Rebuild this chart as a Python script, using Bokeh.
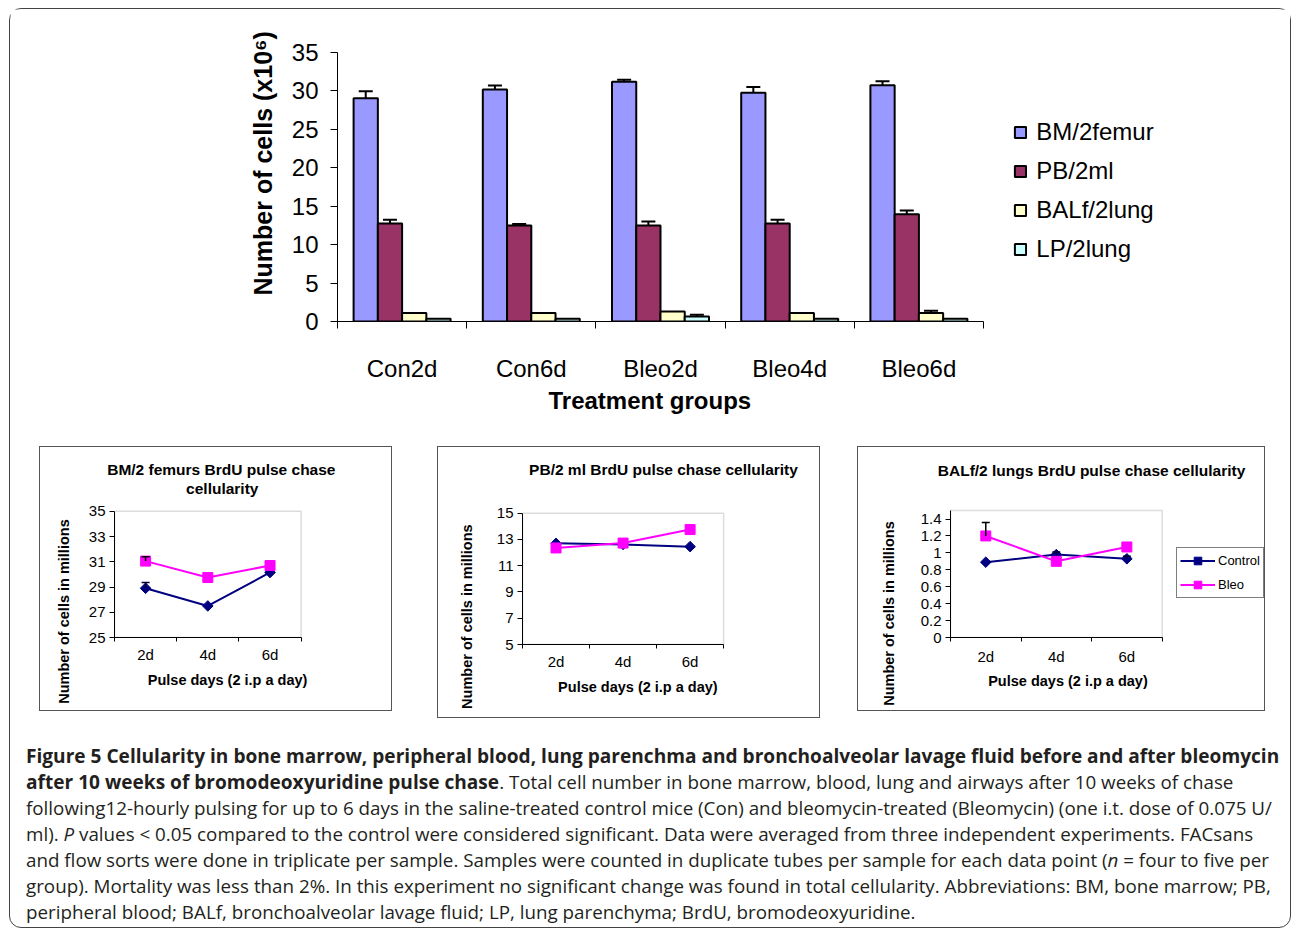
import math
from bokeh.plotting import figure
from bokeh.models import (Range1d, FixedTicker, Label, Legend, LegendItem, Whisker,
                          TeeHead, ColumnDataSource, Div, Title, BoxAnnotation)
from bokeh.layouts import column, row
from bokeh.embed import file_html
from bokeh.resources import INLINE

# ---------------- data: top bar chart ----------------
groups = ["Con2d", "Con6d", "Bleo2d", "Bleo4d", "Bleo6d"]
series_names = ["BM/2femur", "PB/2ml", "BALf/2lung", "LP/2lung"]
bm = [29.05, 30.2, 31.2, 29.75, 30.75]
bm_err = [0.9, 0.5, 0.25, 0.75, 0.5]
pb = [12.75, 12.5, 12.5, 12.75, 13.95]
pb_err = [0.5, 0.2, 0.5, 0.5, 0.5]
balf = [1.1, 1.1, 1.3, 1.1, 1.1]
balf_err = [0, 0, 0, 0, 0.3]
lp = [0.35, 0.35, 0.65, 0.35, 0.35]
lp_err = [0, 0, 0.22, 0, 0]
top_yticks = [0, 5, 10, 15, 20, 25, 30, 35]
bar_colors = ["#9999FF", "#993366", "#FFFFCC", "#CCFFFF"]

# ---------------- data: pulse chase line charts ----------------
days = ["2d", "4d", "6d"]
bm_control = [28.9, 27.5, 30.15]
bm_control_err = [0.45, 0, 0]
bm_bleo = [31.05, 29.75, 30.7]
bm_bleo_err = [0.35, 0, 0]
bm_yticks = [25, 27, 29, 31, 33, 35]

pb_control = [12.7, 12.62, 12.45]
pb_control_err = [0, 0, 0]
pb_bleo = [12.35, 12.72, 13.75]
pb_bleo_err = [0, 0, 0]
pb_yticks = [5, 7, 9, 11, 13, 15]

balf_control = [0.89, 0.98, 0.93]
balf_control_err = [0, 0.03, 0.03]
balf_bleo = [1.2, 0.9, 1.07]
balf_bleo_err = [0.16, 0, 0]
balf_yticks = [0, 0.2, 0.4, 0.6, 0.8, 1, 1.2, 1.4]
balf_ylabels = ["0", "0.2", "0.4", "0.6", "0.8", "1", "1.2", "1.4"]

FONT = "Liberation Sans"


def add_errors(p, xs, vals, errs, color, lw, size):
    keep = [i for i, e in enumerate(errs) if e > 0]
    if not keep:
        return
    src = ColumnDataSource(dict(base=[xs[i] for i in keep],
                                lower=[vals[i] for i in keep],
                                upper=[vals[i] + errs[i] for i in keep]))
    w = Whisker(source=src, base="base", lower="lower", upper="upper",
                line_color=color, line_width=lw, lower_head=None,
                upper_head=TeeHead(size=size, line_color=color, line_width=lw),
                level="overlay")
    p.add_layout(w)


def style_axis(ax, size):
    ax.major_label_text_font = FONT
    ax.major_label_text_font_size = size
    ax.major_label_text_color = "black"
    ax.axis_line_color = "black"


# ---------------- top chart ----------------
# layout (page px): canvas origin (10, 9); plot area x 337..983, y 52..321
ncat = len(groups)
T_CL, T_CT, T_W, T_H = 10, 9, 1280, 431
T_PL, T_PR, T_PT, T_PB = 337, 983, 52, 321
t_xend = ncat * (T_CL + T_W - T_PL) / (T_PR - T_PL)
top = figure(width=T_W, height=T_H, x_range=Range1d(0, t_xend), y_range=Range1d(0, 35),
             output_backend="svg", toolbar_location=None,
             min_border_left=T_PL - T_CL, min_border_right=0, min_border_top=T_PT - T_CT,
             min_border_bottom=T_CT + T_H - T_PB,
             outline_line_color=None, background_fill_color="white", border_fill_color="white")
top.grid.visible = False

offsets = [-0.2815, -0.0938, 0.0938, 0.2815]
bw = 0.1877
all_vals = [bm, pb, balf, lp]
all_errs = [bm_err, pb_err, balf_err, lp_err]
bar_renderers = []
for j, (vals, errs) in enumerate(zip(all_vals, all_errs)):
    xs = [i + 0.5 + offsets[j] for i in range(ncat)]
    r = top.vbar(x=xs, top=vals, width=bw, fill_color=bar_colors[j], line_color="black",
                 line_width=2)
    bar_renderers.append(r)
    add_errors(top, xs, vals, errs, "black", 2, 14)

centers = [i + 0.5 for i in range(ncat)]
xa = top.xaxis[0]
xa.bounds = (0, ncat)
xa.ticker = FixedTicker(ticks=centers, minor_ticks=list(range(ncat + 1)))
xa.major_label_overrides = {c: g for c, g in zip(centers, groups)}
xa.major_tick_line_color = None
xa.major_tick_out = 0
xa.major_tick_in = 0
xa.minor_tick_out = 7
xa.minor_tick_in = 0
xa.minor_tick_line_color = "black"
xa.major_label_standoff = 26
style_axis(xa, "24px")

ya = top.yaxis[0]
ya.bounds = (0, 35)
ya.ticker = FixedTicker(ticks=top_yticks)
ya.major_tick_out = 7
ya.major_tick_in = 0
ya.minor_tick_line_color = None
ya.major_label_standoff = 12
style_axis(ya, "24px")

top.add_layout(Title(text="Number of cells (x10\u2076)", align="left", offset=T_PB - 295,
                     standoff=23, text_font=FONT, text_font_size="25px",
                     text_font_style="bold", text_color="black"), "left")
top.add_layout(Title(text="Treatment groups", align="left", offset=548 - T_PL,
                     vertical_align="top", standoff=5, text_font=FONT, text_font_size="24px",
                     text_font_style="bold", text_color="black"), "below")

leg = Legend(items=[LegendItem(label=n, renderers=[r]) for n, r in zip(series_names, bar_renderers)],
             location=(1013.3 - T_PL, T_PB - 264), margin=0, padding=0, spacing=9,
             label_height=30, glyph_width=14, glyph_height=14, label_standoff=9,
             label_text_font=FONT, label_text_font_size="24px", label_text_color="black",
             border_line_color=None, background_fill_alpha=0)
top.add_layout(leg, "center")


# ---------------- small line charts ----------------
TITLE_HALF = 8.65   # half text height of a 15.5px title line
SMALL_MBT = 33      # common frame-top offset (frames of a row are aligned by bokeh)


def small_chart(box, plot, yrange, yticks, ylabels, control, control_err, bleo, bleo_err,
                titles, ytitle, xtitle, xstandoff, left_gap, legend_pos=None):
    bl, bt, bwid, bht = box
    cl, ct, cw, ch = bl + 1, bt + 1, bwid - 2, bht - 2
    pl, pr, pt, pb = plot
    ymin, ymax = yrange
    n = len(days)
    frame_top = ct + SMALL_MBT
    x_end = n * (cl + cw - pl) / (pr - pl)
    y_top = ymin + (ymax - ymin) * (pb - frame_top) / (pb - pt)

    def dx(px):
        return n * (px - pl) / (pr - pl)

    def dy(py):
        return ymin + (ymax - ymin) * (pb - py) / (pb - pt)

    p = figure(width=bwid, height=bht, x_range=Range1d(0, x_end), y_range=Range1d(ymin, y_top),
               output_backend="svg", toolbar_location=None,
               min_border_left=round(pl - cl), min_border_right=0, min_border_top=SMALL_MBT,
               min_border_bottom=round(ct + ch - pb),
               outline_line_color=None,
               background_fill_color="white", border_fill_color="white",
               margin=(6, 0, 0, left_gap),
               styles={"border": "1px solid #555"})
    p.grid.visible = False
    p.add_layout(BoxAnnotation(left=0, right=n, bottom=ymin, top=ymax, fill_color=None,
                               line_color="#8a8a8a", line_width=1.5, level="underlay"))
    xs = [i + 0.5 for i in range(n)]
    l1 = p.line(xs, control, line_color="#000080", line_width=2)
    s1 = p.scatter(xs, control, marker="square", angle=math.pi / 4, size=7.5,
                   fill_color="#000080", line_color="#000080")
    l2 = p.line(xs, bleo, line_color="#FF00FF", line_width=2)
    s2 = p.scatter(xs, bleo, marker="square", size=10, fill_color="#FF00FF", line_color="#FF00FF")
    add_errors(p, xs, control, control_err, "#000033", 1.5, 8)
    add_errors(p, xs, bleo, bleo_err, "#000000", 1.5, 8)

    xa = p.xaxis[0]
    xa.bounds = (0, n)
    xa.ticker = FixedTicker(ticks=xs, minor_ticks=list(range(n + 1)))
    xa.major_label_overrides = {x: d for x, d in zip(xs, days)}
    xa.major_tick_line_color = None
    xa.major_tick_out = 0
    xa.major_tick_in = 0
    xa.minor_tick_out = 4
    xa.minor_tick_in = 0
    xa.minor_tick_line_color = "black"
    xa.major_label_standoff = xstandoff
    ya = p.yaxis[0]
    ya.bounds = (ymin, ymax)
    ya.ticker = FixedTicker(ticks=yticks)
    ya.major_label_overrides = {t: s for t, s in zip(yticks, ylabels)}
    ya.major_tick_out = 5
    ya.major_tick_in = 0
    ya.minor_tick_line_color = None
    ya.major_label_standoff = 4
    style_axis(xa, "15px")
    style_axis(ya, "15px")

    for (kind, px, py, text) in titles:
        if kind == "label":
            p.add_layout(Label(x=dx(px), y=dy(py), text=text, text_align="center",
                               text_baseline="middle", text_font=FONT, text_font_size="15.5px",
                               text_font_style="bold", text_color="black"))
        else:
            # px = left edge of the text, py = vertical centre of the text
            so = max(0.0, 2 * (frame_top - (py + TITLE_HALF)))
            p.add_layout(Title(text=text, align="left", offset=px - pl, standoff=so,
                               text_font=FONT, text_font_size="15.5px",
                               text_font_style="bold", text_color="black"), "above")
    y_end, y_so = ytitle
    p.add_layout(Title(text="Number of cells in millions", align="left", offset=pb - y_end,
                       standoff=y_so, text_font=FONT, text_font_size="14.5px",
                       text_font_style="bold", text_color="black"), "left")
    x_start, x_so = xtitle
    p.add_layout(Title(text="Pulse days (2 i.p a day)", align="left", offset=x_start - pl,
                       vertical_align="top", standoff=x_so, text_font=FONT,
                       text_font_size="14.5px", text_font_style="bold", text_color="black"),
                 "below")
    if legend_pos is not None:
        lx, ly = legend_pos
        lg = Legend(items=[LegendItem(label="Control", renderers=[l1, s1]),
                           LegendItem(label="Bleo", renderers=[l2, s2])],
                    location=(lx - pl, pb - ly), margin=0, padding=3, spacing=5,
                    label_height=19, glyph_width=35, glyph_height=19, label_standoff=3,
                    label_text_font=FONT, label_text_font_size="13px", label_text_color="black",
                    border_line_color="black", border_line_width=1)
        p.add_layout(lg, "center")
    return p


c1 = small_chart((39, 446, 353, 265), (114, 299.3, 510.7, 636.7), (25, 35), bm_yticks,
                 [str(t) for t in bm_yticks], bm_control, bm_control_err, bm_bleo, bm_bleo_err,
                 [("title", 106.7, 469, "BM/2 femurs BrdU pulse chase"),
                  ("label", 221, 488, "cellularity")],
                 (703, 27), (147.3, 13), 4, 29)
c2 = small_chart((437, 446, 383, 272), (518.7, 720.7, 512.3, 642.3), (5, 15), pb_yticks,
                 [str(t) for t in pb_yticks], pb_control, pb_control_err, pb_bleo, pb_bleo_err,
                 [("title", 525.3, 469, "PB/2 ml BrdU pulse chase cellularity")],
                 (706.7, 37), (554.3, 12), 4, 45)
c3 = small_chart((857, 446, 408, 265), (947, 1159.3, 510, 636.7), (0, 1.5), balf_yticks,
                 balf_ylabels, balf_control, balf_control_err, balf_bleo, balf_bleo_err,
                 [("title", 934.3, 469.5, "BALf/2 lungs BrdU pulse chase cellularity")],
                 (705, 41), (984.7, 11), 6, 37, legend_pos=(1173, 598))

caption_html = (
    "<b style='font-size:19.1px'>Figure 5 Cellularity in bone marrow, peripheral blood, lung "
    "parenchma and bronchoalveolar lavage fluid before and after bleomycin<br>after 10 weeks of "
    "bromodeoxyuridine pulse chase</b>. "
    "Total cell number in bone marrow, blood, lung and airways after 10 weeks of chase<br>"
    "following12-hourly pulsing for up to 6 days in the saline-treated control mice (Con) and "
    "bleomycin-treated (Bleomycin) (one i.t. dose of 0.075 U/<br>"
    "ml). <i>P</i> values &lt; 0.05 compared to the control were considered significant. Data were "
    "averaged from three independent experiments. FACsans<br>"
    "and flow sorts were done in triplicate per sample. Samples were counted in duplicate tubes per "
    "sample for each data point (<i>n</i> = four to five per<br>"
    "group). Mortality was less than 2%. In this experiment no significant change was found in total "
    "cellularity. Abbreviations: BM, bone marrow; PB,<br>"
    "peripheral blood; BALf, bronchoalveolar lavage fluid; LP, lung parenchyma; BrdU, bromodeoxyuridine."
)
caption = Div(text=caption_html, width=1262, height=182, margin=(25, 0, 2, 16),
              styles={"font-family": "'Open Sans', sans-serif", "font-size": "18.8px",
                      "line-height": "26px", "color": "#231f20", "white-space": "nowrap"})

layout = column(top, row(c1, c2, c3), caption, margin=(8, 0, 0, 9),
                styles={"border": "1px solid #444", "border-radius": "12px",
                        "background": "white"})

open("out.html", "w").write(file_html(layout, INLINE))
